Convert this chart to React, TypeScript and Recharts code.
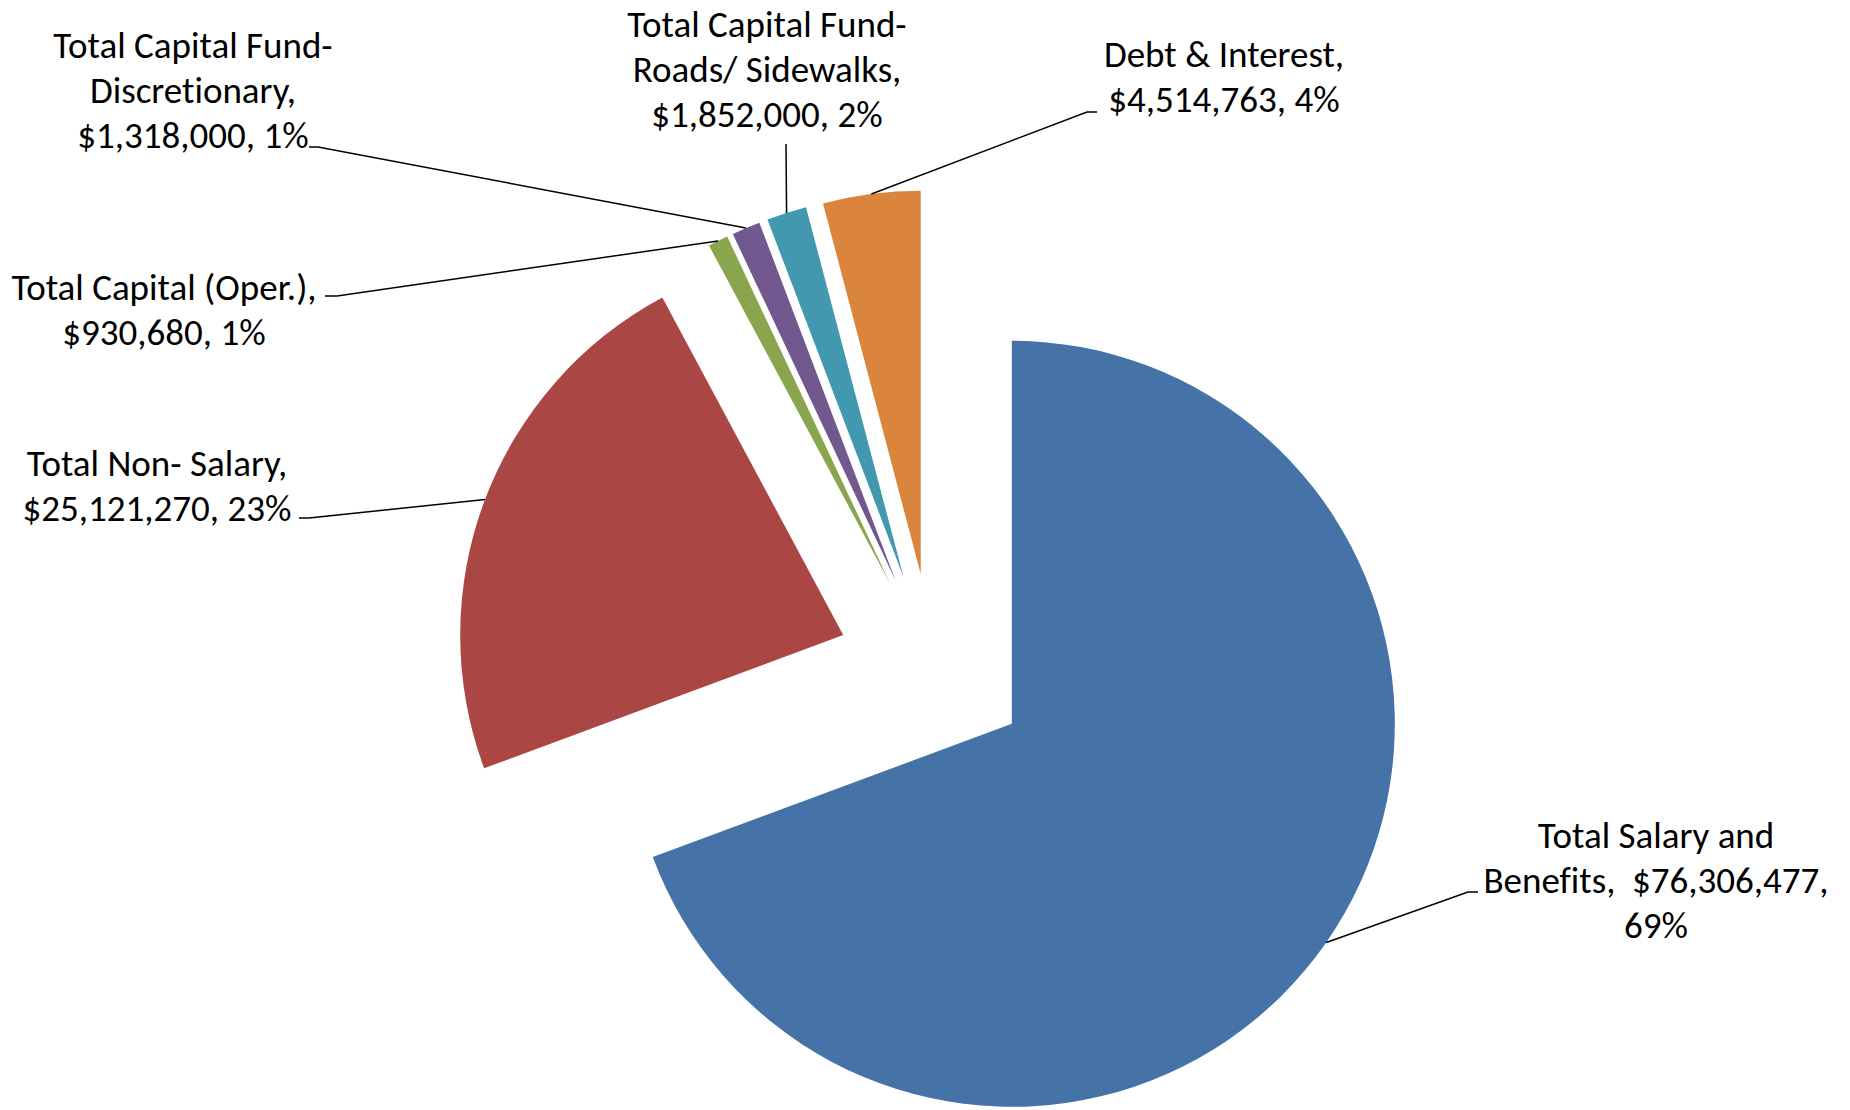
import React from 'react';
import { PieChart, Pie, Cell } from 'recharts';

// budget categories, in the order they run clockwise from 12 o'clock
const categories = [
  'Total Salary and Benefits',
  'Total Non- Salary',
  'Total Capital (Oper.)',
  'Total Capital Fund-Discretionary',
  'Total Capital Fund-Roads/ Sidewalks',
  'Debt & Interest',
];
const amounts = [76306477, 25121270, 930680, 1318000, 1852000, 4514763];
const colors = ['#4572A7', '#AA4643', '#89A54E', '#71588F', '#4198AF', '#DB843D'];

// label text as it wraps in the original
const labelText = [
  ['Total Salary and', 'Benefits,  $76,306,477,', '69%'],
  ['Total Non- Salary,', '$25,121,270, 23%'],
  ['Total Capital (Oper.),', '$930,680, 1%'],
  ['Total Capital Fund-', 'Discretionary,', '$1,318,000, 1%'],
  ['Total Capital Fund-', 'Roads/ Sidewalks,', '$1,852,000, 2%'],
  ['Debt & Interest,', '$4,514,763, 4%'],
];

// where each label sits: text centre, first line centre, leader elbow and tick end
const labelLayout = [
  { x: 1656, y: 835, elbow: [1468, 892], end: 1478 },
  { x: 157, y: 463, elbow: [309, 518], end: 299 },
  { x: 164, y: 287, elbow: [337, 296], end: 325 },
  { x: 193, y: 45, elbow: [318, 147], end: 309 },
  { x: 767, y: 24, elbow: [786, 144], end: 786 },
  { x: 1224, y: 54, elbow: [1087, 112], end: 1097 },
];

const WIDTH = 1850;
const HEIGHT = 1110;
const CX = 933;
const CY = 669;
const RADIUS = 383;
const EXPLODE = 96;
const LINE_H = 45;
const FONT = 'Carlito, Calibri, Roboto, sans-serif';

const data = categories.map((name, i) => ({ name, value: amounts[i] }));

const total = amounts.reduce((a, b) => a + b, 0);
let running = 0;
const offsets = amounts.map((v) => {
  const mid = ((running + v / 2) / total) * 2 * Math.PI;
  running += v;
  return { dx: EXPLODE * Math.sin(mid), dy: -EXPLODE * Math.cos(mid) };
});

const RAD = Math.PI / 180;

const makeLabel = (slice: number) => (props: any) => {
  if (props.index !== slice) return null;
  const { cx, cy, midAngle, outerRadius } = props;
  const sx = cx + outerRadius * Math.cos(-midAngle * RAD);
  const sy = cy + outerRadius * Math.sin(-midAngle * RAD);
  const lay = labelLayout[slice];
  const lines = labelText[slice];
  return (
    <g>
      <polyline
        points={`${sx},${sy} ${lay.elbow[0]},${lay.elbow[1]} ${lay.end},${lay.elbow[1]}`}
        fill="none"
        stroke="#000"
        strokeWidth={1.5}
      />
      <text
        x={lay.x}
        textAnchor="middle"
        fontFamily={FONT}
        fontSize={37}
        fill="#000"
        style={{ whiteSpace: 'pre', fontVariantLigatures: 'none' }}
      >
        {lines.map((t, k) => (
          <tspan key={k} x={lay.x} y={lay.y + k * LINE_H + 13}>
            {t}
          </tspan>
        ))}
      </text>
    </g>
  );
};

export default function App() {
  return (
    <div style={{ position: 'absolute', left: 0, top: 0, width: WIDTH, height: HEIGHT, background: '#fff' }}>
      <PieChart width={WIDTH} height={HEIGHT} margin={{ top: 0, right: 0, bottom: 0, left: 0 }}>
        {offsets.map((o, s) => (
          <Pie
            key={categories[s]}
            data={data}
            dataKey="value"
            nameKey="name"
            cx={CX + o.dx}
            cy={CY + o.dy}
            outerRadius={RADIUS}
            innerRadius={0}
            startAngle={90}
            endAngle={-270}
            stroke="none"
            label={makeLabel(s)}
            labelLine={false}
            isAnimationActive={false}
          >
            {data.map((d, i) => (
              <Cell key={d.name} fill={i === s ? colors[i] : 'transparent'} stroke="none" />
            ))}
          </Pie>
        ))}
      </PieChart>
    </div>
  );
}
